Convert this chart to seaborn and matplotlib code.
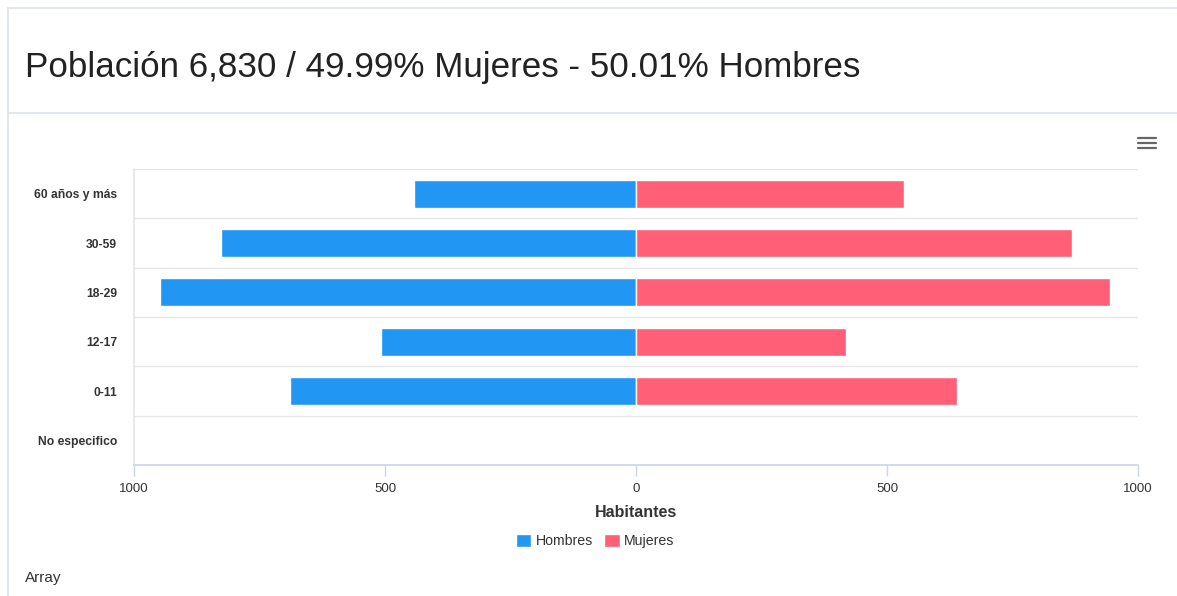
import numpy as np
import pandas as pd
import seaborn as sns
import matplotlib.pyplot as plt
from matplotlib.ticker import FuncFormatter
from matplotlib.lines import Line2D
from matplotlib.patches import Rectangle, Patch

grupos = ["60 años y más", "30-59", "18-29", "12-17", "0-11", "No especifico"]
hombres = [442, 827, 948, 508, 689, 0]
mujeres = [534, 869, 944, 418, 639, 0]
xticks = [-1000, -500, 0, 500, 1000]

AZUL = "#2196f3"
ROJO = "#ff6078"

sns.set_theme(style="white")
plt.rcParams['font.family'] = ['Liberation Sans', 'DejaVu Sans']

df = pd.DataFrame({"grupo": grupos,
                   "Hombres": -np.array(hombres),
                   "Mujeres": np.array(mujeres)})

fig = plt.figure(figsize=(11.77, 5.96), dpi=100)

# card frame
fig.patches.append(Rectangle((8 / 1177, -0.1), 1.2, 1 - 8 / 596 + 0.1, transform=fig.transFigure,
                             fill=False, edgecolor="#dde3ea", lw=1.2))
fig.lines.append(Line2D([8 / 1177, 1], [1 - 113 / 596] * 2, transform=fig.transFigure,
                        color="#dde3ea", lw=1.2))
fig.text(25 / 1177, 1 - 68 / 596, "Población 6,830 / 49.99% Mujeres - 50.01% Hombres",
         fontsize=25.2, color="#222222", va="center", ha="left")
fig.text(25 / 1177, 1 - 578 / 596, "Array", fontsize=11, color="#333333", va="center")

# hamburger icon
for yy in (138, 143, 148):
    fig.lines.append(Line2D([1138 / 1177, 1156 / 1177], [1 - yy / 596] * 2,
                            transform=fig.transFigure, color="#666666", lw=1.6))

ax = fig.add_axes([134 / 1177, 1 - 465 / 596, 1004 / 1177, 296 / 596])

sns.barplot(data=df, x="Hombres", y="grupo", order=grupos, color=AZUL, orient="h",
            width=0.57, saturation=1, edgecolor="white", linewidth=1, ax=ax)
sns.barplot(data=df, x="Mujeres", y="grupo", order=grupos, color=ROJO, orient="h",
            width=0.57, saturation=1, edgecolor="white", linewidth=1, ax=ax)

ax.set_xlim(-1000, 1000)
ax.set_ylim(len(grupos) - 0.5, -0.5)
ax.set_xticks(xticks)
ax.xaxis.set_major_formatter(FuncFormatter(lambda v, p: f"{abs(int(v))}"))
ax.tick_params(axis="x", length=8, width=1, color="#ccd6eb", labelsize=9.5,
               labelcolor="#333333", pad=5, bottom=True)
ax.tick_params(axis="y", length=0, labelsize=8.7, labelcolor="#333333", pad=12)
for lab in ax.get_yticklabels():
    lab.set_fontweight("bold")

ax.set_yticks(np.arange(-0.5, len(grupos), 1), minor=True)
ax.grid(which="minor", axis="y", color="#e6e6e6", lw=1)
ax.tick_params(which="minor", length=0)

for s in ["top", "right"]:
    ax.spines[s].set_visible(False)
ax.spines["left"].set_color("#e6e6e6")
ax.spines["bottom"].set_color("#ccd6eb")

ax.set_ylabel("")
ax.set_xlabel("Habitantes", fontsize=11.5, fontweight="bold", color="#333333", labelpad=7)

handles = [Patch(facecolor=AZUL, label="Hombres"), Patch(facecolor=ROJO, label="Mujeres")]
fig.legend(handles=handles, loc="center", bbox_to_anchor=(595 / 1177, 1 - 541 / 596), ncol=2,
           frameon=False, fontsize=10.2, handlelength=1.1, handleheight=1.1,
           handletextpad=0.3, columnspacing=0.8, labelcolor="#333333")

fig.savefig("out.png", dpi=100)
